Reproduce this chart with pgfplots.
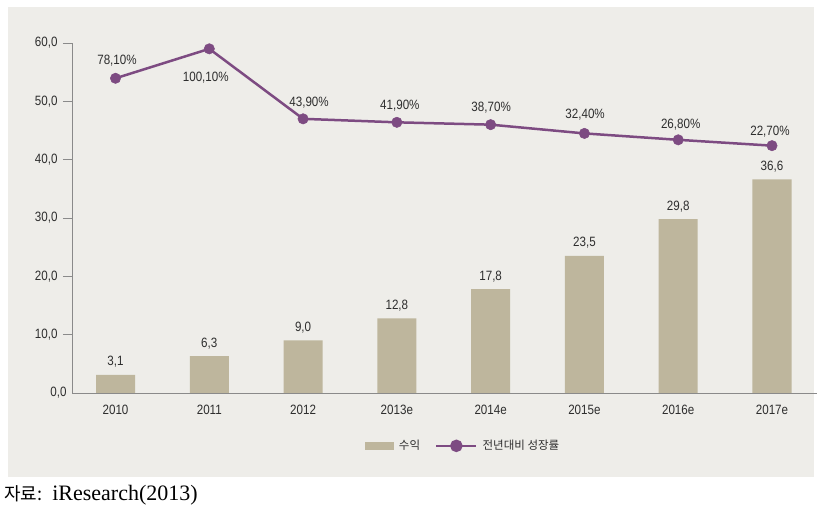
\documentclass[border=0pt]{standalone}
\usepackage{pgfplots}
\pgfplotsset{compat=1.18}
\usepackage{pgfplotstable}
\usepackage{fontspec}
\setmainfont{Liberation Sans}[FakeStretch=0.86]
\newfontfamily\kr{Noto Sans CJK KR}
\newfontfamily\capserif{Liberation Serif}

\definecolor{panelbg}{HTML}{EEEDE9}
\definecolor{barcol}{HTML}{BEB69D}
\definecolor{linecol}{HTML}{7D4B82}
\definecolor{txt}{HTML}{2E2E2E}
\definecolor{axcol}{HTML}{8A8A8A}

% revenue bars
\pgfplotstableread{
x y
0 3.1
1 6.3
2 9.0
3 12.8
4 17.8
5 23.5
6 29.8
7 36.6
}\bardata

% growth line, drawn on the same scale as in the original
\pgfplotstableread{
x y lab dx dy
0 53.95 78,10\% 1.5 18
1 59.0 100,10\% -3.5 -28.5
2 47.0 43,90\% 6 16
3 46.4 41,90\% 3 17
4 46.0 38,70\% 0.5 17
5 44.5 32,40\% 0.7 19
6 43.4 26,80\% 2.5 15
7 42.4 22,70\% -2 14
}\linedata

\begin{document}
\begin{tikzpicture}[font=\fontsize{13.5}{15}\selectfont]
\fill[white] (0pt,0pt) rectangle (832pt,518pt);
\fill[panelbg] (8pt,41pt) rectangle (814pt,511pt);
\begin{axis}[
  at={(72pt,125pt)}, anchor=south west,
  width=745pt, height=350pt, scale only axis,
  xmin=-0.464, xmax=7.48, ymin=0, ymax=60,
  clip=false,
  axis x line*=bottom, axis y line*=left,
  axis line style={-, axcol, line width=0.8pt},
  xtick={0,...,7},
  xticklabels={2010,2011,2012,2013e,2014e,2015e,2016e,2017e},
  x tick style={draw=none},
  ytick={10,20,...,60},
  extra y ticks={0},
  extra y tick style={major tick length=0pt},
  tick align=outside, major tick length=9pt,
  y tick style={axcol, line width=0.8pt},
  tick label style={font=\fontsize{13.5}{15}\selectfont, text=txt},
  yticklabel style={xshift=-2pt},
  /pgf/number format/.cd, use comma, fixed, fixed zerofill, precision=1, assume math mode=true,
  /pgfplots/.cd,
  legend style={at={(0.527,-0.151)}, anchor=center, draw=none, fill=none,
    legend columns=2, font=\kr\fontsize{11.5}{13}\selectfont, text=txt,
    nodes={inner xsep=5pt},
    /tikz/every even column/.append style={column sep=10pt}},
]
\addplot[ybar, bar width=39pt, fill=barcol, draw=none,
  nodes near coords,
  every node near coord/.append style={anchor=center, yshift=13pt, text=txt,
    font=\fontsize{13.5}{15}\selectfont},
  legend image code/.code={\fill[barcol] (0pt,-4pt) rectangle (29pt,4pt);}]
  table[x=x, y=y] {\bardata};
\addlegendentry{수익}
\addplot[linecol, line width=2.5pt, mark=*, mark size=5.2pt,
  mark options={line width=0.5pt},
  point meta=explicit symbolic,
  visualization depends on={\thisrow{dx} \as \dx},
  visualization depends on={\thisrow{dy} \as \dy},
  nodes near coords,
  every node near coord/.append style={anchor=center, text=txt,
    xshift=\dx*1pt, yshift=\dy*1pt, font=\fontsize{13.5}{15}\selectfont},
  legend image code/.code={\draw[linecol, line width=2.5pt] (0pt,0pt) -- (40pt,0pt);
    \fill[linecol] (20pt,0pt) circle (5pt);}]
  table[x=x, y=y, meta=lab] {\linedata};
\addlegendentry{전년대비 성장률}
\end{axis}
\node[anchor=west, inner sep=0pt, text=black] at (4pt,23pt)
  {{\kr\fontsize{18}{20}\selectfont 자료:}\hspace{10pt}{\capserif\fontsize{22}{24}\selectfont iResearch(2013)}};
\end{tikzpicture}
\end{document}
